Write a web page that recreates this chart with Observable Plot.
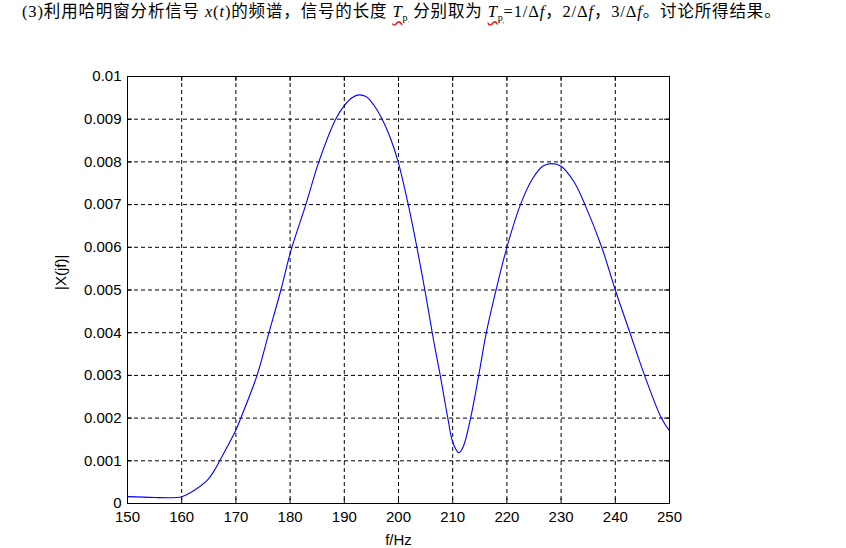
<!DOCTYPE html>
<html>
<head>
<meta charset="utf-8">
<script src="https://cdn.jsdelivr.net/npm/d3@7"></script>
<script src="https://cdn.jsdelivr.net/npm/@observablehq/plot@0.6"></script>
<style>
  html, body { margin: 0; padding: 0; background: #fff; }
  #wrap { position: relative; width: 846px; height: 548px; overflow: hidden; }
  #title { position: absolute; left: 22px; top: -2px; font-family: "Liberation Serif", "Noto Sans CJK SC", serif; font-size: 16.5px; letter-spacing: 0.85px; color: #000; white-space: nowrap; }
  #title sub { font-size: 10px; }
  .wavy { text-decoration: underline wavy #e02020; text-underline-offset: 3px; }
  #chart { position: absolute; left: 0; top: 0; }
</style>
</head>
<body>
<div id="wrap">
  <div id="chart"></div>
  <div id="title">(3)利用哈明窗分析信号 <i>x</i>(<i>t</i>)的频谱，信号的长度 <span class="wavy"><i>T</i><sub>p</sub></span> 分别取为 <span class="wavy"><i>T</i><sub>p</sub></span>=1/Δ<i>f</i>，2/Δ<i>f</i>，3/Δ<i>f</i>。讨论所得结果。</div>
</div>
<script>
const freq = [150, 155, 159, 160, 162.2, 164.7, 166, 167, 168.7, 170, 170.9, 173.9, 176.1, 178.3, 180.1, 182.9, 185.3, 188.4, 190, 191.5, 192.7, 194, 195.5, 196.9, 198.5, 199.9, 201.8, 203.4, 205, 206.5, 207.7, 209.1, 210, 211.1, 211.9, 213.3, 214.8, 216.2, 218, 220, 222.5, 224.7, 226.6, 228.3, 230, 232.4, 234.4, 237.5, 240, 242.7, 245.4, 248.5, 250];
const magnitude = [0.00016, 0.00014, 0.00014, 0.00016, 0.0003, 0.00054, 0.00077, 0.001, 0.0014, 0.00172, 0.002, 0.003, 0.004, 0.005, 0.0059, 0.007, 0.008, 0.009, 0.00932, 0.00951, 0.00957, 0.00953, 0.00932, 0.00902, 0.00856, 0.00802, 0.007, 0.006, 0.0049, 0.0038, 0.003, 0.002, 0.00144, 0.00119, 0.00132, 0.002, 0.003, 0.004, 0.005, 0.006, 0.007, 0.0076, 0.0079, 0.00796, 0.0079, 0.00753, 0.007, 0.006, 0.005, 0.004, 0.003, 0.002, 0.0017];
const xTicks = [150, 160, 170, 180, 190, 200, 210, 220, 230, 240, 250];
const yTicks = [0, 0.001, 0.002, 0.003, 0.004, 0.005, 0.006, 0.007, 0.008, 0.009, 0.01];
const yTickLabels = ["0", "0.001", "0.002", "0.003", "0.004", "0.005", "0.006", "0.007", "0.008", "0.009", "0.01"];
const xLabel = "f/Hz";
const yLabel = "|X(jf)|";

const data = freq.map((f, i) => ({ f, v: magnitude[i] }));
const yFmt = d => {
  const i = yTicks.findIndex(t => Math.abs(t - d) < 1e-9);
  return i >= 0 ? yTickLabels[i] : "";
};

const W = 846, H = 548, ML = 127, MR = 177, MT = 76, MB = 45;
const plotW = W - ML - MR, plotH = H - MT - MB, TL = 5;

const chart = Plot.plot({
  width: W,
  height: H,
  marginLeft: ML,
  marginRight: MR,
  marginTop: MT,
  marginBottom: MB,
  style: { fontFamily: "'Liberation Sans', Arial, sans-serif", fontSize: "15px", background: "transparent", color: "#000" },
  x: { domain: [150, 250], ticks: xTicks, tickSize: 0, tickPadding: 8, label: null },
  y: { domain: [0, 0.01], ticks: yTicks, tickSize: 0, tickPadding: 6, tickFormat: yFmt, label: null },
  marks: [
    Plot.ruleX(xTicks, { x: d => d, stroke: "#000", strokeDasharray: "4,3" }),
    Plot.ruleY(yTicks, { y: d => d, stroke: "#000", strokeDasharray: "4,3" }),
    Plot.tickX(xTicks, { x: d => d, stroke: "#000", insetTop: plotH - TL }),
    Plot.tickX(xTicks, { x: d => d, stroke: "#000", insetBottom: plotH - TL }),
    Plot.tickY(yTicks, { y: d => d, stroke: "#000", insetRight: plotW - TL }),
    Plot.tickY(yTicks, { y: d => d, stroke: "#000", insetLeft: plotW - TL }),
    Plot.line(data, { x: "f", y: "v", stroke: "#0000ff", strokeWidth: 1.1, curve: "catmull-rom" }),
    Plot.frame({ stroke: "#000", strokeWidth: 1 }),
    Plot.text([xLabel], { frameAnchor: "bottom", dy: 41, fill: "#000", fontSize: 15 }),
    Plot.text([yLabel], { frameAnchor: "left", dx: -66, rotate: -90, fill: "#000", fontSize: 15 })
  ]
});
document.getElementById("chart").appendChild(chart);
</script>
</body>
</html>
